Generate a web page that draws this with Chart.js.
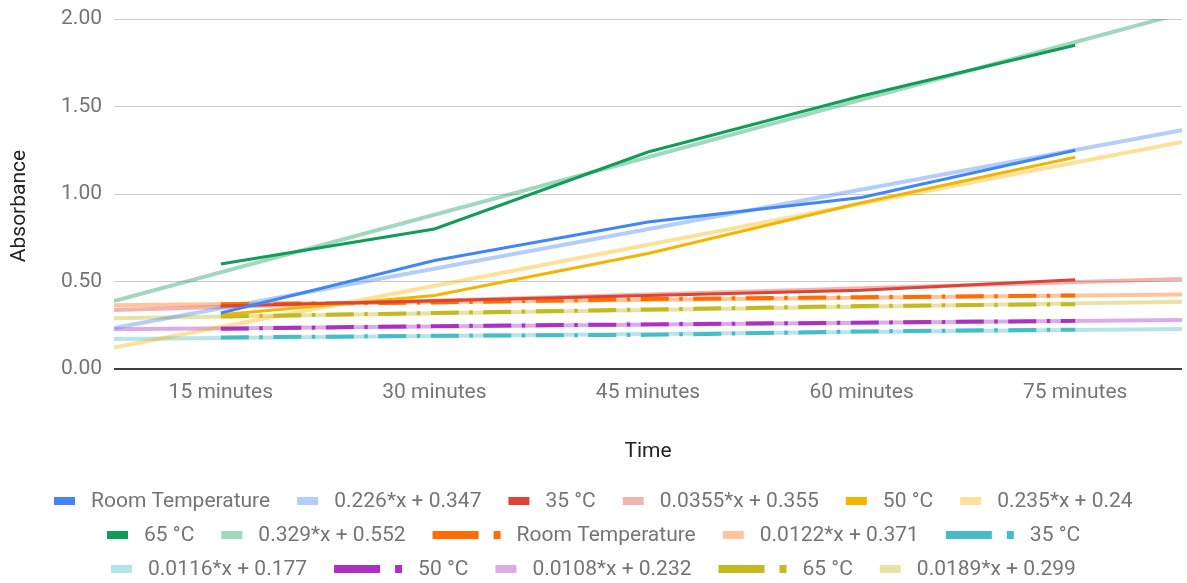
<!DOCTYPE html>
<html>
<head>
<meta charset="utf-8">
<title>Absorbance over time</title>
<script src="https://cdn.jsdelivr.net/npm/chart.js@4.4.1/dist/chart.umd.min.js"></script>
<style>
  html, body { margin: 0; padding: 0; background: #ffffff; overflow: hidden; }
  canvas { display: block; }
</style>
</head>
<body>
<canvas id="chart" width="1187" height="583"></canvas>
<script>
// Time points (x axis categories)
const categories = ['15 minutes', '30 minutes', '45 minutes', '60 minutes', '75 minutes'];

// First run (solid lines)
const roomTemp = [0.32, 0.62, 0.84, 0.98, 1.25];
const temp35 = [0.36, 0.39, 0.42, 0.45, 0.51];
const temp50 = [0.31, 0.42, 0.66, 0.95, 1.21];
const temp65 = [0.60, 0.80, 1.24, 1.56, 1.85];

// Second run (dash-dot lines)
const roomTempB = [0.37, 0.38, 0.40, 0.41, 0.42];
const temp35B = [0.18, 0.19, 0.195, 0.215, 0.225];
const temp50B = [0.23, 0.245, 0.255, 0.265, 0.275];
const temp65B = [0.30, 0.32, 0.34, 0.36, 0.37];

// Linear trendline coefficients, y = slope*x + intercept (x = 0 at the first time point)
const trendSlopes = [0.226, 0.0355, 0.235, 0.329, 0.0122, 0.0116, 0.0108, 0.0189];
const trendIntercepts = [0.347, 0.355, 0.24, 0.552, 0.371, 0.177, 0.232, 0.299];

// Y axis ticks
const yTicks = [0, 0.5, 1, 1.5, 2];

const seriesNames = ['Room Temperature', '35 °C', '50 °C', '65 °C', 'Room Temperature', '35 °C', '50 °C', '65 °C'];
const seriesValues = [roomTemp, temp35, temp50, temp65, roomTempB, temp35B, temp50B, temp65B];
const seriesColors = ['#4285F4', '#DB4437', '#F4B400', '#0F9D58', '#FF6D01', '#46BDC6', '#AB30C4', '#C2BA1F'];
const seriesDashed = [false, false, false, false, true, true, true, true];

const FONT = 'Roboto, "Noto Sans", sans-serif';
const TEXT_GREY = '#757575';

function withAlpha(hex, a) {
  const n = parseInt(hex.slice(1), 16);
  return `rgba(${(n >> 16) & 255}, ${(n >> 8) & 255}, ${n & 255}, ${a})`;
}

const xMin = -0.5;
const xMax = categories.length - 0.5;

const datasets = [];
seriesNames.forEach((name, i) => {
  const color = seriesColors[i];
  datasets.push({
    label: name,
    data: seriesValues[i].map((v, j) => ({ x: j, y: v })),
    borderColor: color,
    backgroundColor: color,
    borderWidth: seriesDashed[i] ? 4 : 3,
    borderDash: seriesDashed[i] ? [28, 10.5, 3.5, 10.5] : [],
    borderCapStyle: 'butt',
    pointRadius: 0,
    pointHoverRadius: 0,
    tension: 0,
    order: 0,
    dashedKey: seriesDashed[i]
  });
  const m = trendSlopes[i], b = trendIntercepts[i];
  datasets.push({
    label: `${m}*x + ${b}`,
    data: [{ x: xMin, y: m * xMin + b }, { x: xMax, y: m * xMax + b }],
    borderColor: withAlpha(color, 0.4),
    backgroundColor: withAlpha(color, 0.4),
    borderWidth: 4,
    pointRadius: 0,
    pointHoverRadius: 0,
    tension: 0,
    order: 1,
    dashedKey: false
  });
});

// Legend rows and the vertical axis title, laid out like a spreadsheet chart
const sheetLegend = {
  id: 'sheetLegend',
  afterDraw(chart) {
    const ctx = chart.ctx;
    ctx.save();
    ctx.font = `21px ${FONT}`;
    ctx.textBaseline = 'middle';

    const swatchW = 21, swatchH = 8, swatchGap = 16, itemGap = 27;
    const dashW = 46, dotGap = 15, dotW = 7;
    const items = chart.data.datasets.map(ds => {
      const mark = ds.dashedKey ? dashW + dotGap + dotW : swatchW;
      const tw = ctx.measureText(ds.label).width;
      return { ds, mark, tw, w: mark + swatchGap + tw };
    });

    const maxRow = 1140;
    const rows = [];
    let cur = [], curW = 0;
    items.forEach(it => {
      const add = cur.length ? itemGap + it.w : it.w;
      if (cur.length && curW + add > maxRow) {
        rows.push({ items: cur, w: curW });
        cur = [it]; curW = it.w;
      } else {
        cur.push(it); curW += add;
      }
    });
    if (cur.length) rows.push({ items: cur, w: curW });

    const rowY0 = 501, rowStep = 34;
    const cx = chart.width / 2;
    rows.forEach((row, r) => {
      const y = rowY0 + r * rowStep;
      let x = Math.round(cx - row.w / 2);
      row.items.forEach(it => {
        const col = it.ds.borderColor;
        ctx.fillStyle = col;
        if (it.ds.dashedKey) {
          ctx.fillRect(x, y - swatchH / 2, dashW, swatchH);
          ctx.fillRect(x + dashW + dotGap, y - swatchH / 2, dotW, swatchH);
        } else {
          ctx.fillRect(x, y - swatchH / 2, swatchW, swatchH);
        }
        ctx.fillStyle = TEXT_GREY;
        ctx.textAlign = 'left';
        ctx.fillText(it.ds.label, x + it.mark + swatchGap, y + 1);
        x += it.w + itemGap;
      });
    });

    // vertical axis title
    ctx.translate(20, 206);
    ctx.rotate(-Math.PI / 2);
    ctx.textAlign = 'center';
    ctx.fillStyle = '#222222';
    ctx.fillText('Absorbance', 0, 0);
    ctx.restore();
  }
};

function build() {
  Chart.defaults.font.family = FONT;
  new Chart(document.getElementById('chart'), {
    type: 'line',
    data: { datasets },
    options: {
      responsive: false,
      animation: false,
      devicePixelRatio: 1,
      layout: { padding: { left: 0, right: 5, top: 19, bottom: 0 } },
      plugins: {
        legend: { display: false },
        tooltip: { enabled: false },
        title: { display: false }
      },
      scales: {
        x: {
          type: 'linear',
          min: xMin,
          max: xMax,
          grid: { display: false, drawTicks: false },
          border: { display: false },
          afterBuildTicks: scale => {
            scale.ticks = categories.map((_, i) => ({ value: i }));
          },
          afterFit: scale => {
            scale.height = 214;
            scale.paddingLeft = 0;
            scale.paddingRight = 0;
          },
          ticks: {
            autoSkip: false,
            maxRotation: 0,
            padding: 11,
            color: TEXT_GREY,
            font: { size: 21, family: FONT },
            callback: v => categories[v] ?? ''
          },
          title: {
            display: true,
            text: 'Time',
            color: '#222222',
            font: { size: 21, family: FONT },
            padding: { top: 0, bottom: 119 }
          }
        },
        y: {
          min: 0,
          max: 2,
          afterBuildTicks: scale => {
            scale.ticks = yTicks.map(v => ({ value: v }));
          },
          afterFit: scale => {
            scale.width = 114;
            scale.paddingTop = 0;
            scale.paddingBottom = 0;
          },
          grid: {
            drawTicks: false,
            color: ctx => (ctx.tick && ctx.tick.value === 0 ? '#404040' : '#CCCCCC'),
            lineWidth: ctx => (ctx.tick && ctx.tick.value === 0 ? 2 : 1)
          },
          border: { display: false },
          ticks: {
            padding: 12,
            color: TEXT_GREY,
            font: { size: 21, family: FONT },
            callback: v => Number(v).toFixed(2)
          },
          title: { display: false }
        }
      }
    },
    plugins: [sheetLegend]
  });
}

if (document.fonts && document.fonts.load) {
  document.fonts.load(`21px Roboto`).then(build, build);
} else {
  build();
}
</script>
</body>
</html>
